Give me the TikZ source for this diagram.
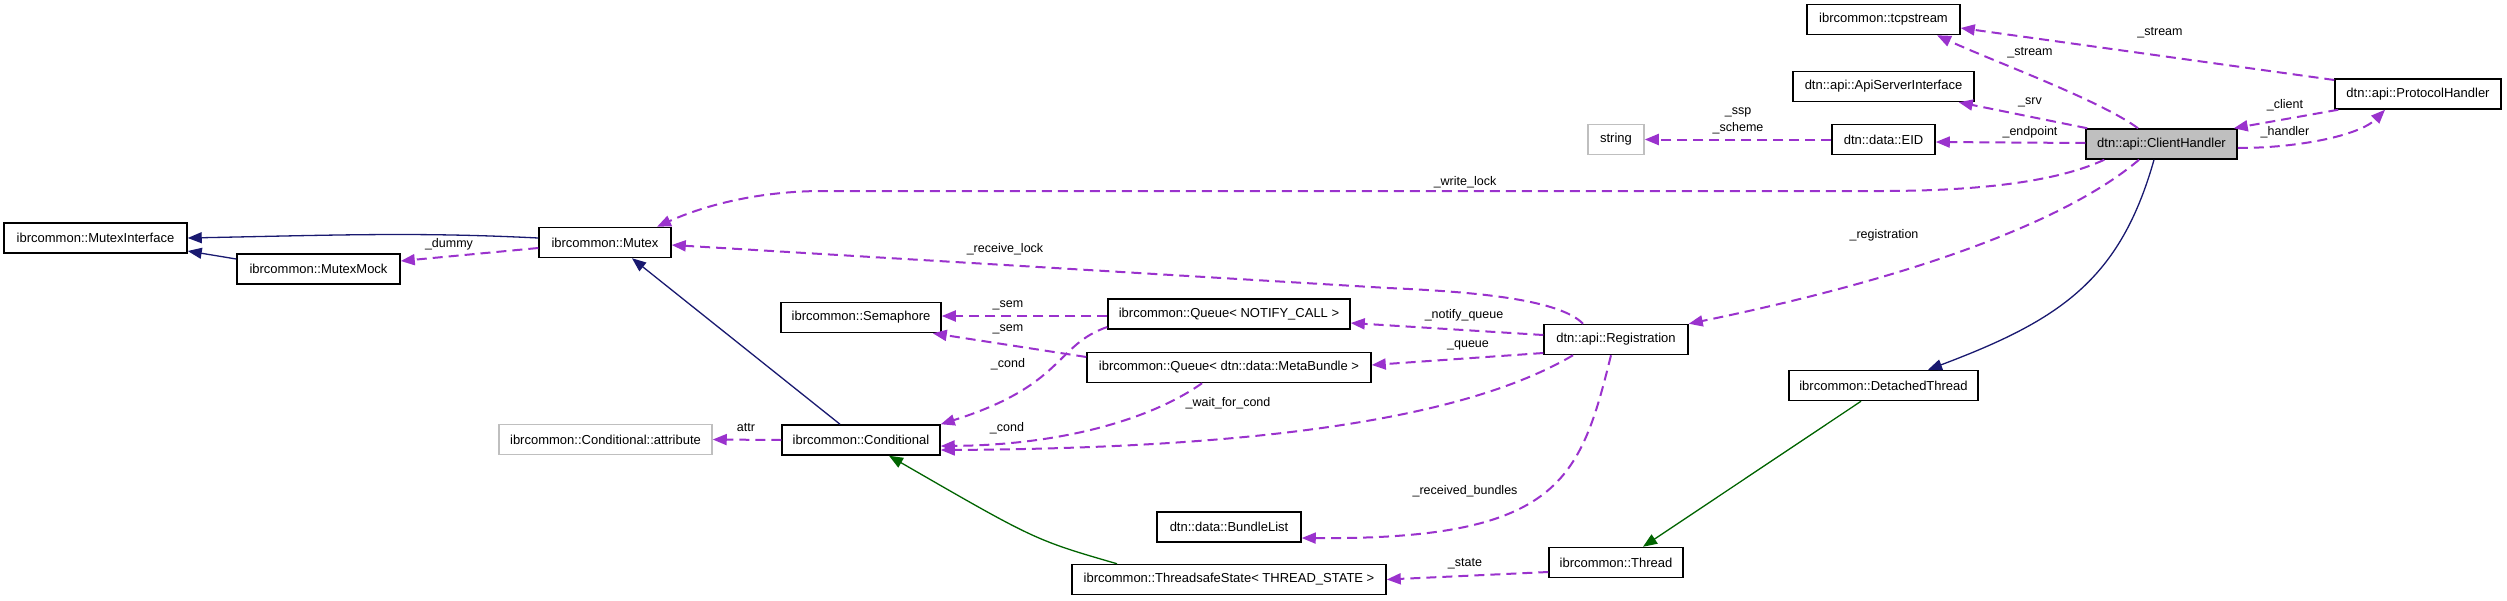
\documentclass[tikz,border=0pt]{standalone}
\usepackage{fontspec}
\setmainfont{Liberation Sans}
\usetikzlibrary{arrows.meta,calc}
\definecolor{usecol}{HTML}{9A32CD}
\definecolor{inhcol}{HTML}{191970}
\definecolor{tplcol}{HTML}{006400}
\definecolor{undoc}{HTML}{BFBFBF}
\begin{document}
\begin{tikzpicture}[x=1pt,y=-1pt,
  cls/.style={draw=black,line width=1.5pt,minimum height=30pt,inner sep=0pt,font=\fontsize{13}{15}\selectfont,fill=white},
  ucls/.style={cls,draw=undoc},
  focus/.style={cls,fill=undoc},
  use/.style={draw=usecol,line width=2pt,dash pattern=on 10pt off 6pt,-{Triangle[length=14pt,width=11pt]}},
  inh/.style={draw=inhcol,line width=1.3pt,-{Triangle[length=14pt,width=11pt]}},
  tpl/.style={draw=tplcol,line width=1.3pt,-{Triangle[length=14pt,width=11pt]}},
  lbl/.style={inner sep=0pt,font=\fontsize{12.5}{17}\selectfont,align=center}
]
\useasboundingbox (0,0) rectangle (2507,600);
\fill[white] (0,0) rectangle (2507,600);
% nodes
\node[cls,minimum width=153pt] (tcp) at (1883.5,19.5) {ibrcommon::tcpstream};
\node[cls,minimum width=181pt] (api) at (1883.5,86.5) {dtn::api::ApiServerInterface};
\node[ucls,minimum width=56pt] (str) at (1616,139.5) {string};
\node[cls,minimum width=103pt] (eid) at (1883.5,139.5) {dtn::data::EID};
\node[focus,minimum width=151pt] (ch) at (2161.5,144) {dtn::api::ClientHandler};
\node[cls,minimum width=166pt] (ph) at (2418,94) {dtn::api::ProtocolHandler};
\node[cls,minimum width=183pt] (mi) at (95.5,238) {ibrcommon::MutexInterface};
\node[cls,minimum width=163pt] (mm) at (318.5,269) {ibrcommon::MutexMock};
\node[cls,minimum width=132pt] (mutex) at (605,242.5) {ibrcommon::Mutex};
\node[cls,minimum width=160pt] (sem) at (861,317.5) {ibrcommon::Semaphore};
\node[cls,minimum width=242pt] (qn) at (1229,314) {ibrcommon::Queue< NOTIFY\_CALL >};
\node[cls,minimum width=284pt] (qm) at (1229,367.5) {ibrcommon::Queue< dtn::data::MetaBundle >};
\node[cls,minimum width=144pt] (reg) at (1616,339.5) {dtn::api::Registration};
\node[cls,minimum width=189pt] (dt) at (1883.5,385.5) {ibrcommon::DetachedThread};
\node[ucls,minimum width=213pt] (attr) at (605.5,439.5) {ibrcommon::Conditional::attribute};
\node[cls,minimum width=158pt] (cond) at (861,440) {ibrcommon::Conditional};
\node[cls,minimum width=144pt] (bl) at (1229,527) {dtn::data::BundleList};
\node[cls,minimum width=314pt] (ts) at (1229,579.5) {ibrcommon::ThreadsafeState< THREAD\_STATE >};
\node[cls,minimum width=134pt] (thr) at (1616,562.5) {ibrcommon::Thread};
% inheritance
\draw[inh] ([yshift=4.5pt]mutex.west) .. controls +(-120,-6) and +(150,-3) .. (mi.east);
\draw[inh] ([yshift=10pt]mm.west) -- ([yshift=-13pt]mi.east);
\draw[inh] ([xshift=-21pt]cond.north) -- ([xshift=27pt]mutex.south);
\draw[inh] ([xshift=-7.5pt]ch.south) .. controls (2120,280) and (2060,320) .. ([xshift=44.5pt]dt.north);
\draw[tpl] ([xshift=-22.5pt]dt.south) -- ([xshift=27pt]thr.north);
\draw[tpl] ([xshift=-112pt]ts.north) .. controls (1035,540) .. ([xshift=28pt]cond.south);
% usage
\draw[use] ([yshift=-5.5pt]mutex.west) -- ([yshift=8pt]mm.east);
\draw[use] ([xshift=19pt]ch.south west) .. controls (2050,185) and (1960,191) .. (1880,191) -- (823,191) .. controls (760,191) and (705,205) .. ([xshift=52pt]mutex.north);
\draw[use] ([xshift=-33pt]reg.north) .. controls (1560,300) and (1480,292) .. (1388,288) -- ([yshift=-2.5pt]mutex.east);
\draw[use] ([yshift=-2pt]qn.west) -- ([yshift=1.5pt]sem.east);
\draw[use] ([yshift=10.5pt]qm.west) -- ([xshift=-9pt]sem.south east);
\draw[use] ([yshift=-13pt]qn.west) .. controls (1055,345) and (1065,385) .. (cond.north east);
\draw[use] ([xshift=-27pt]qm.south) .. controls (1150,420) and (1060,445) .. ([yshift=-6pt]cond.east);
\draw[use] ([xshift=-43pt]reg.south) .. controls (1480,410) and (1300,448) .. ([yshift=-10pt]cond.east);
\draw[use] ([yshift=4.5pt]reg.west) -- ([yshift=-9pt]qn.east);
\draw[use] ([yshift=-13.5pt]reg.west) -- ([yshift=2.5pt]qm.east);
\draw[use] ([xshift=-5pt]reg.south) .. controls (1580,480) and (1560,540) .. ([yshift=-11pt]bl.east);
\draw[use] ([xshift=-22.5pt]ch.south) .. controls (2080,210) and (1950,270) .. (reg.north east);
\draw[use] ([yshift=-9.5pt]thr.west) -- (ts.east);
\draw[use] (cond.west) -- (attr.east);
\draw[use] (eid.west) -- (str.east);
\draw[use] ([yshift=1pt]ch.west) -- ([yshift=-2.5pt]eid.east);
\draw[use] ([xshift=2pt]ch.north west) -- ([xshift=-16pt]api.south east);
\draw[use] ([xshift=-23.5pt]ch.north) .. controls (2100,100) and (1990,60) .. ([xshift=53.5pt]tcp.south);
\draw[use] ([yshift=14pt]ph.west) -- ([yshift=-8.5pt]tcp.east);
\draw[use] ([xshift=4pt]ph.south west) -- ([xshift=-4pt]ch.north east);
\draw[use] ([yshift=-4pt]ch.east) .. controls (2300,148) and (2360,135) .. ([xshift=-33pt]ph.south);
% labels
\node[lbl] (l1) at (2160,33) {\_stream};
\node[lbl] (l2) at (2030,53) {\_stream};
\node[lbl] (l3) at (2030,102) {\_srv};
\node[lbl] (l4) at (1738,120.5) {\_ssp\\\_scheme};
\node[lbl] (l5) at (2030,132) {\_endpoint};
\node[lbl] (l6) at (2285,105) {\_client};
\node[lbl] (l7) at (2285,132) {\_handler};
\node[lbl] (l8) at (1465,182) {\_write\_lock};
\node[lbl] (l9) at (1884,235) {\_registration};
\node[lbl] (l10) at (449,244) {\_dummy};
\node[lbl] (l11) at (1005,249) {\_receive\_lock};
\node[lbl] (l12) at (1008,305) {\_sem};
\node[lbl] (l13) at (1008,329) {\_sem};
\node[lbl] (l14) at (1008,364) {\_cond};
\node[lbl] (l15) at (1464,315) {\_notify\_queue};
\node[lbl] (l16) at (1468,345) {\_queue};
\node[lbl] (l17) at (1228,403) {\_wait\_for\_cond};
\node[lbl] (l18) at (1007,428) {\_cond};
\node[lbl] (l19) at (746,428) {attr};
\node[lbl] (l20) at (1465,491) {\_received\_bundles};
\node[lbl] (l21) at (1465,564) {\_state};
\end{tikzpicture}
\end{document}
